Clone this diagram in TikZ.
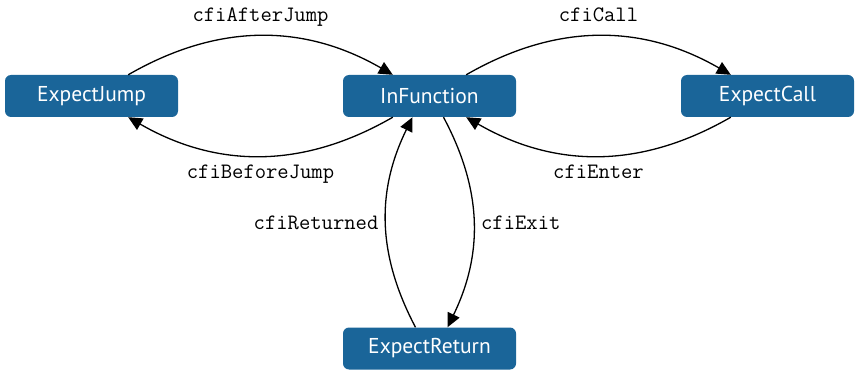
\documentclass[tikz,border=0pt]{standalone}
\usepackage{fontspec}
\newfontfamily\statefont{PT Sans}
\usetikzlibrary{arrows.meta}
\definecolor{stateblue}{RGB}{26,101,153}
\begin{document}
\begin{tikzpicture}[x=1pt, y=1pt,
    state/.style={fill=stateblue, text=white, rounded corners=6pt,
      minimum width=173pt, minimum height=42pt, inner sep=0pt,
      font=\statefont\fontsize{21.5}{26}\selectfont},
    edge/.style={line width=1.3pt, -{Triangle[length=14pt,width=13pt]}},
    lbl/.style={font=\ttfamily\fontsize{22}{26}\selectfont, inner sep=2pt,
      text depth=5pt}]
  \useasboundingbox (0,0) rectangle (855,370);

  \node[state] (jump) at (91.5,274) {ExpectJump};
  \node[state] (inf) at (429.5,274) {InFunction};
  \node[state] (call) at (767.5,274) {ExpectCall};
  \node[state] (ret) at (429.5,21.5) {ExpectReturn};

  % jumps
  \draw[edge] (jump) to[out=30, in=150]
    node[lbl, midway, above=7pt] {cfiAfterJump} (inf);
  \draw[edge] (inf) to[out=210, in=-30]
    node[lbl, midway, below=6pt] {cfiBeforeJump} (jump);

  % calls
  \draw[edge] (inf) to[out=30, in=150]
    node[lbl, midway, above=7pt] {cfiCall} (call);
  \draw[edge] (call) to[out=210, in=-30]
    node[lbl, midway, below=6pt] {cfiEnter} (inf);

  % returns
  \draw[edge] ([xshift=-14pt]ret.north) to[bend left=27]
    node[lbl, midway, left=5pt, yshift=-3pt] {cfiReturned} ([xshift=-17pt]inf.south);
  \draw[edge] ([xshift=14pt]inf.south) to[bend left=27]
    node[lbl, midway, right=5pt, yshift=-3pt] {cfiExit} ([xshift=18pt]ret.north);
\end{tikzpicture}
\end{document}
